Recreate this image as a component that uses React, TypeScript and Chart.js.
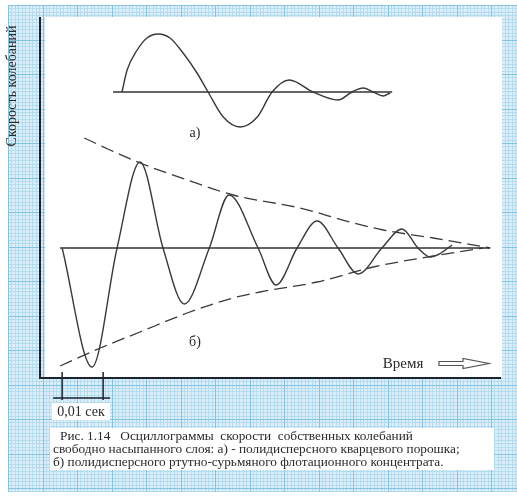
import React, { useEffect, useRef } from "react";
import { Chart, registerables } from "chart.js";

Chart.register(...registerables);

// Time in milliseconds from the start of oscillogram б); velocity in arbitrary units.
const timeA = [14.6, 15.85, 18.3, 20.7, 23.4, 26.3, 29.5, 32.9, 35.6, 39.3, 43.4, 47.6, 51.2, 55.4, 61.2, 67.3, 70.7, 73.4, 75.9, 78.3, 80.0];
const velocityA = [0, 2.2, 4.2, 5.4, 5.8, 5.4, 3.9, 1.9, 0, -2.5, -3.5, -2.5, 0, 1.2, 0, -0.8, 0, 0.4, 0, -0.4, -0.1];
const baselineA = [12.4, 80.5];

const timeB = [0, 7.3, 13.4, 19.0, 24.6, 29.8, 35.9, 40.7, 47.8, 52.2, 57.3, 62.2, 67.3, 72.2, 78.0, 82.9, 86.8, 89.8, 92.4, 95.1];
const velocityB = [0, -11.9, 0, 8.6, 0, -5.6, 0, 5.3, 0, -3.7, 0, 2.7, 0, -2.6, 0, 1.9, 0, -0.9, -0.5, 0.3];
const baselineB = [-0.5, 104.4];

const upperEnvT = [5.4, 11.7, 19.0, 30.5, 41.7, 58.0, 70.2, 78.3, 90.5, 104.4];
const upperEnvV = [11.0, 9.8, 8.5, 6.8, 5.3, 4.0, 2.6, 1.8, 1.0, 0];
const lowerEnvT = [-0.5, 9.3, 19.0, 30.5, 41.7, 48.3, 62.2, 75.9, 90.5, 102.7];
const lowerEnvV = [-11.8, -10.0, -8.4, -6.5, -5.0, -4.4, -3.4, -1.9, -0.8, 0];

// Scale bar: 0,01 s = 10 ms
const scaleBarMs = [0, 10];

const yAxisTitle = "Скорость колебаний";
const xAxisTitle = "Время";
const labelA = "а)";
const labelB = "б)";
const scaleBarLabel = "0,01 сек";
const captionLines = [
  "Рис. 1.14   Осциллограммы  скорости  собственных колебаний",
  "свободно насыпанного слоя: а) - полидисперсного кварцевого порошка;",
  "б) полидисперсного ртутно-сурьмяного флотационного концентрата.",
];

const SERIF = '"Liberation Serif", "Times New Roman", serif';
const INK = "#2a2a2a";

const pts = (t: number[], v: number[]) => t.map((x, i) => ({ x, y: v[i] }));

const paperPlugin = {
  id: "paper",
  beforeDraw(chart: any) {
    const { ctx, chartArea: a } = chart;
    ctx.save();
    const X0 = 8, Y0 = 5, X1 = 517, Y1 = 492, step = 3.45;
    ctx.fillStyle = "#dceff9";
    ctx.fillRect(X0, Y0, X1 - X0, Y1 - Y0);
    ctx.lineWidth = 1;
    for (const major of [false, true]) {
      ctx.strokeStyle = major ? "#86c3e2" : "#b5dbef";
      ctx.beginPath();
      for (let i = 0; X0 + i * step <= X1; i++) {
        if ((i % 10 === 0) !== major) continue;
        const x = Math.round(X0 + i * step) + 0.5;
        ctx.moveTo(x, Y0);
        ctx.lineTo(x, Y1);
      }
      for (let i = 0; Y0 + i * step <= Y1; i++) {
        if ((i % 10 === 0) !== major) continue;
        const y = Math.round(Y0 + i * step) + 0.5;
        ctx.moveTo(X0, y);
        ctx.lineTo(X1, y);
      }
      ctx.stroke();
    }
    // drawing sheet
    ctx.fillStyle = "#ffffff";
    ctx.fillRect(a.left + 5, a.top - 1, a.right - a.left - 3, a.bottom - a.top);
    ctx.restore();
  },
};

const notesPlugin = {
  id: "notes",
  afterDraw(chart: any) {
    const { ctx, chartArea: a, scales } = chart;
    const sx = scales.x;
    ctx.save();
    ctx.fillStyle = INK;
    ctx.strokeStyle = INK;

    // vertical axis title
    ctx.save();
    ctx.translate(12, 86);
    ctx.rotate(-Math.PI / 2);
    ctx.font = `14px ${SERIF}`;
    ctx.textAlign = "center";
    ctx.textBaseline = "middle";
    ctx.fillText(yAxisTitle, 0, 0);
    ctx.restore();

    // panel labels
    ctx.font = `14px ${SERIF}`;
    ctx.textAlign = "center";
    ctx.textBaseline = "middle";
    ctx.fillText(labelA, 195, 133);
    ctx.fillText(labelB, 195, 342);

    // time label with hollow arrow
    ctx.font = `15px ${SERIF}`;
    ctx.fillText(xAxisTitle, 403, 364);
    ctx.lineWidth = 1.2;
    ctx.strokeStyle = "#555";
    ctx.beginPath();
    ctx.moveTo(439, 361.5);
    ctx.lineTo(463, 361.5);
    ctx.lineTo(463, 358.5);
    ctx.lineTo(489, 363.5);
    ctx.lineTo(463, 368.5);
    ctx.lineTo(463, 365.5);
    ctx.lineTo(439, 365.5);
    ctx.closePath();
    ctx.stroke();

    // scale bar
    const p0 = sx.getPixelForValue(scaleBarMs[0]);
    const p1 = sx.getPixelForValue(scaleBarMs[1]);
    ctx.strokeStyle = "#1c2430";
    ctx.lineWidth = 1.5;
    ctx.beginPath();
    ctx.moveTo(p0, a.bottom - 6);
    ctx.lineTo(p0, 400);
    ctx.moveTo(p1, a.bottom - 6);
    ctx.lineTo(p1, 400);
    ctx.moveTo(p0 - 9, 398);
    ctx.lineTo(p1 + 7, 398);
    ctx.stroke();
    ctx.fillStyle = "#ffffff";
    ctx.fillRect(52, 403, 58, 17);
    ctx.fillStyle = INK;
    ctx.font = `14px ${SERIF}`;
    ctx.textAlign = "center";
    ctx.textBaseline = "alphabetic";
    ctx.fillText(scaleBarLabel, 81, 416);

    // caption
    ctx.fillStyle = "#ffffff";
    ctx.fillRect(50, 428, 444, 42);
    ctx.fillStyle = INK;
    ctx.font = `13.3px ${SERIF}`;
    ctx.textAlign = "left";
    ctx.fillText(captionLines[0], 60, 440);
    ctx.fillText(captionLines[1], 53, 453);
    ctx.fillText(captionLines[2], 53, 466);

    ctx.restore();
  },
};

export default function App() {
  const ref = useRef<HTMLCanvasElement>(null);

  useEffect(() => {
    const waveStyle = {
      borderColor: "#3a3a3a",
      borderWidth: 1.4,
      pointRadius: 0,
      cubicInterpolationMode: "monotone" as const,
      fill: false,
    };
    const dashStyle = {
      borderColor: "#3a3a3a",
      borderWidth: 1.3,
      borderDash: [13, 6],
      pointRadius: 0,
      cubicInterpolationMode: "monotone" as const,
    };
    const hiddenGrid = { display: false, drawTicks: false };
    const chart = new Chart(ref.current as HTMLCanvasElement, {
      type: "line",
      data: {
        datasets: [
          {
            label: "а) baseline",
            data: pts(baselineA, [0, 0]),
            yAxisID: "yA",
            borderColor: "#333",
            borderWidth: 1.5,
            pointRadius: 0,
          },
          { label: "а)", data: pts(timeA, velocityA), yAxisID: "yA", ...waveStyle },
          {
            label: "б) baseline",
            data: pts(baselineB, [0, 0]),
            yAxisID: "yB",
            borderColor: "#333",
            borderWidth: 1.5,
            pointRadius: 0,
          },
          { label: "б)", data: pts(timeB, velocityB), yAxisID: "yB", ...waveStyle },
          { label: "upper envelope", data: pts(upperEnvT, upperEnvV), yAxisID: "yB", ...dashStyle },
          { label: "lower envelope", data: pts(lowerEnvT, lowerEnvV), yAxisID: "yB", ...dashStyle },
        ],
      },
      options: {
        responsive: false,
        animation: false,
        devicePixelRatio: 1,
        layout: { padding: { left: 40, top: 18, right: 17, bottom: 118 } },
        plugins: { legend: { display: false }, tooltip: { enabled: false } },
        scales: {
          x: {
            type: "linear",
            min: -5.4,
            max: 106.8,
            ticks: { display: false },
            grid: hiddenGrid,
            border: { display: true, color: "#1c2430", width: 2 },
          },
          yB: {
            type: "linear",
            position: "left",
            min: -13,
            max: 23,
            ticks: { display: false },
            grid: hiddenGrid,
            border: { display: true, color: "#1c2430", width: 2 },
          },
          yA: {
            type: "linear",
            display: false,
            min: -28.6,
            max: 7.4,
          },
        },
      },
      plugins: [paperPlugin, notesPlugin],
    });
    return () => chart.destroy();
  }, []);

  return (
    <div style={{ position: "fixed", left: 0, top: 0, width: 517, height: 496, background: "#ffffff" }}>
      <canvas ref={ref} width={517} height={496} style={{ display: "block", width: 517, height: 496 }} />
    </div>
  );
}
